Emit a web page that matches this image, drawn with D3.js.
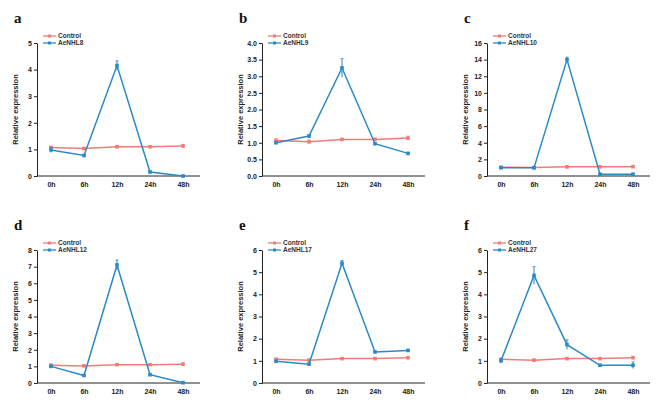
<!DOCTYPE html>
<html>
<head>
<meta charset="utf-8">
<script src="https://cdn.jsdelivr.net/npm/d3@7"></script>
<style>
  body { margin: 0; background: #fff; }
  text { font-family: "Liberation Sans", Arial, sans-serif; }
</style>
</head>
<body>
<div id="chart"></div>
<script>
// time points
var times = ["0h", "6h", "12h", "24h", "48h"];

// panel letters and gene names
var letters = ["a", "b", "c", "d", "e", "f"];
var genes = ["AeNHL8", "AeNHL9", "AeNHL10", "AeNHL12", "AeNHL17", "AeNHL27"];
var yMax = [5, 4, 16, 8, 6, 6];
var yStep = [1, 0.5, 2, 1, 1, 1];

// control series (mean, error)
var controlA = [1.07, 1.03, 1.10, 1.10, 1.13];
var controlB = [1.07, 1.03, 1.10, 1.10, 1.14];
var controlC = [1.05, 1.02, 1.10, 1.10, 1.12];
var controlD = [1.07, 1.03, 1.10, 1.10, 1.13];
var controlE = [1.07, 1.03, 1.10, 1.10, 1.14];
var controlF = [1.07, 1.03, 1.10, 1.10, 1.14];
var controlErr = [0.04, 0.05, 0.03, 0.04, 0.06];

// gene series
var geneA = [0.98, 0.77, 4.15, 0.15, 0.0];
var geneB = [1.0, 1.2, 3.25, 0.97, 0.68];
var geneC = [1.0, 0.98, 14.0, 0.22, 0.22];
var geneD = [1.0, 0.45, 7.1, 0.5, 0.02];
var geneE = [0.98, 0.85, 5.4, 1.4, 1.47];
var geneF = [1.0, 4.85, 1.73, 0.8, 0.8];

var errA = [0.1, 0.04, 0.18, 0.03, 0.01];
var errB = [0.03, 0.04, 0.28, 0.03, 0.02];
var errC = [0.05, 0.05, 0.3, 0.05, 0.05];
var errD = [0.08, 0.06, 0.3, 0.04, 0.02];
var errE = [0.04, 0.05, 0.12, 0.04, 0.04];
var errF = [0.1, 0.4, 0.22, 0.04, 0.15];

var controls = [controlA, controlB, controlC, controlD, controlE, controlF];
var series = [geneA, geneB, geneC, geneD, geneE, geneF];
var errs = [errA, errB, errC, errD, errE, errF];

var red = "#f07c78", blue = "#2a8ac6";

var svg = d3.select("#chart").append("svg")
    .attr("width", 669)
    .attr("height", 403);

var axisX = [37, 262, 487];
var plotTop = [43, 250];
var plotH = 133;

letters.forEach(function(letter, i) {
    var col = i % 3, row = Math.floor(i / 3);
    var g = svg.append("g")
        .attr("transform", "translate(" + axisX[col] + "," + plotTop[row] + ")");

    var x = d3.scalePoint()
        .domain(times)
        .range([14, 146]);
    var y = d3.scaleLinear()
        .domain([0, yMax[i]])
        .range([plotH, 0]);

    // y axis
    var ticks = d3.range(0, yMax[i] + yStep[i] / 2, yStep[i]);
    var yAxis = g.append("g")
        .call(d3.axisLeft(y).tickValues(ticks)
            .tickFormat(yStep[i] < 1 ? d3.format(".1f") : d3.format("d"))
            .tickSize(3).tickSizeOuter(0));
    yAxis.select(".domain").attr("stroke", "#222").attr("stroke-width", 1);
    yAxis.selectAll(".tick line").attr("stroke", "#222");
    yAxis.selectAll("text").attr("font-size", 7).attr("font-weight", "bold")
        .attr("fill", "#222").attr("x", -5);

    // x axis
    var xAxis = g.append("g")
        .attr("transform", "translate(0," + plotH + ")")
        .call(d3.axisBottom(x).tickSize(0).tickPadding(6));
    xAxis.select(".domain").attr("d", "M0,0H163").attr("stroke", "#222");
    xAxis.selectAll("text").attr("font-size", 7).attr("font-weight", "bold")
        .attr("fill", "#222");

    // y label
    g.append("text")
        .attr("transform", "translate(" + (-19) + "," + (plotH / 2) + ") rotate(-90)")
        .attr("text-anchor", "middle")
        .attr("font-size", 7.5)
        .attr("font-weight", "bold")
        .attr("fill", "#222")
        .text("Relative expression");

    // panel letter
    g.append("text")
        .attr("x", -23)
        .attr("y", -20)
        .attr("font-family", "Liberation Serif, Times New Roman, serif")
        .style("font-family", "'Liberation Serif', serif")
        .attr("font-size", 15)
        .attr("font-weight", "bold")
        .attr("fill", "#111")
        .text(letter);

    var line = d3.line()
        .x(function(d, j) { return x(times[j]); })
        .y(function(d) { return y(d); });

    function drawSeries(vals, err, color) {
        var s = g.append("g");
        s.selectAll("line.err")
            .data(vals)
            .enter().append("line")
            .attr("x1", function(d, j) { return x(times[j]); })
            .attr("x2", function(d, j) { return x(times[j]); })
            .attr("y1", function(d, j) { return y(d + err[j]); })
            .attr("y2", function(d, j) { return y(Math.max(0, d - err[j])); })
            .attr("stroke", color).attr("stroke-width", 1);
        s.selectAll("line.cap")
            .data(vals)
            .enter().append("line")
            .attr("x1", function(d, j) { return x(times[j]) - 1.5; })
            .attr("x2", function(d, j) { return x(times[j]) + 1.5; })
            .attr("y1", function(d, j) { return y(d + err[j]); })
            .attr("y2", function(d, j) { return y(d + err[j]); })
            .attr("stroke", color).attr("stroke-width", 0.8);
        s.append("path")
            .datum(vals)
            .attr("d", line)
            .attr("fill", "none")
            .attr("stroke", color)
            .attr("stroke-width", 1.5);
        s.selectAll("rect")
            .data(vals)
            .enter().append("rect")
            .attr("x", function(d, j) { return x(times[j]) - 1.8; })
            .attr("y", function(d) { return y(d) - 1.8; })
            .attr("width", 3.6).attr("height", 3.6)
            .attr("fill", color);
    }

    drawSeries(controls[i], controlErr, red);
    drawSeries(series[i], errs[i], blue);

    // legend
    [["Control", red], [genes[i], blue]].forEach(function(item, k) {
        var ly = -7 + k * 7;
        g.append("line")
            .attr("x1", 6).attr("x2", 19)
            .attr("y1", ly).attr("y2", ly)
            .attr("stroke", item[1]).attr("stroke-width", 1.3);
        g.append("rect")
            .attr("x", 11).attr("y", ly - 1.5)
            .attr("width", 3).attr("height", 3)
            .attr("fill", item[1]);
        g.append("text")
            .attr("x", 21).attr("y", ly + 2.3)
            .attr("font-size", 6.5)
            .attr("font-weight", "bold")
            .attr("fill", "#333")
            .text(item[0]);
    });
});
</script>
</body>
</html>
